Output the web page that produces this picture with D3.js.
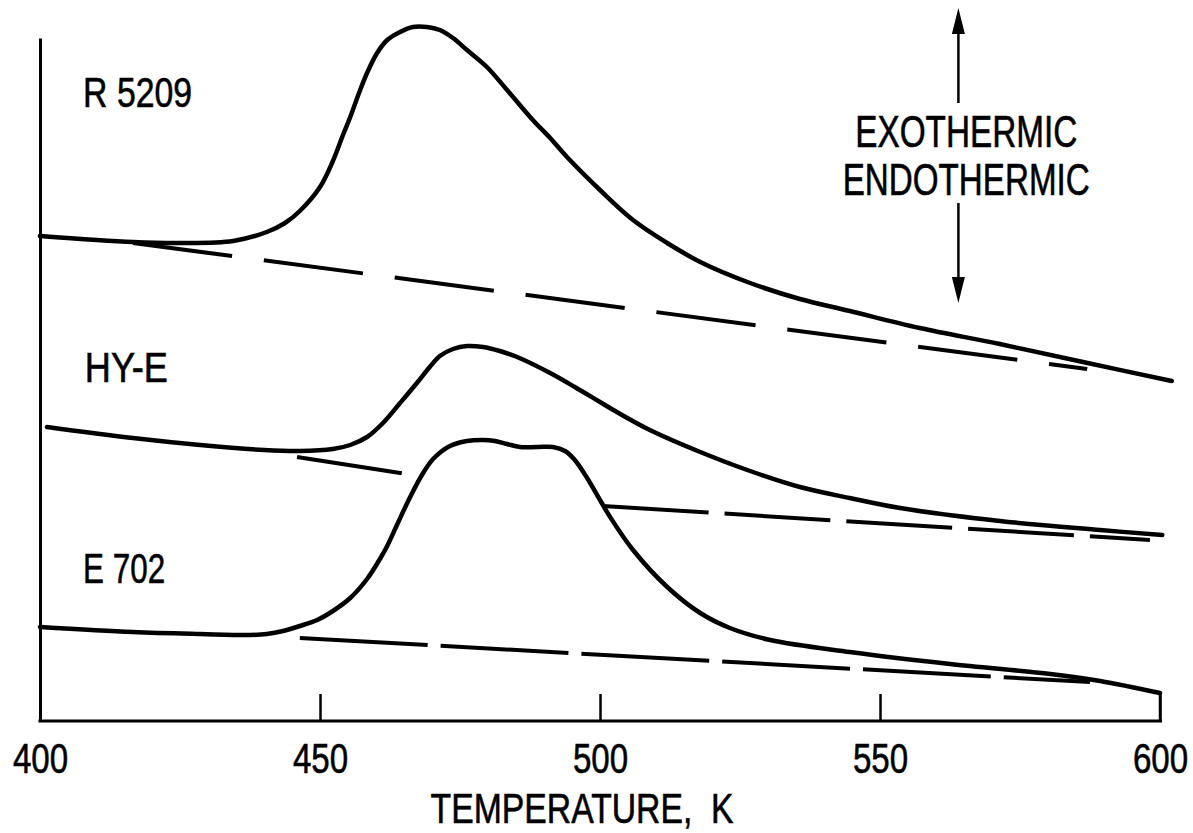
<!DOCTYPE html>
<html>
<head>
<meta charset="utf-8">
<script src="https://cdn.jsdelivr.net/npm/d3@7"></script>
<style>
  html, body { margin: 0; padding: 0; background: #fff; }
  svg { display: block; }
  text { font-family: "Liberation Sans", Arial, sans-serif; fill: #000; stroke: #000; stroke-width: 0.6px; }
</style>
</head>
<body>
<svg id="chart" width="1193" height="833"></svg>
<script>
// DTA traces: temperature (K) vs. differential signal (arbitrary units, stacked offsets)
const r5209 = [
  [400, 48.5], [416.6, 47.9], [425, 47.8], [434.5, 48.0], [440.5, 48.9], [443.75, 49.8],
  [446.4, 51.0], [450, 53.4], [452.3, 56.0], [454.1, 58.6], [455.4, 60.4], [457.1, 63.0],
  [458.4, 64.8], [460.2, 66.8], [462.0, 68.1], [464.3, 68.9], [466.6, 69.4], [469.1, 69.4],
  [471.4, 69.1], [473.75, 68.3], [476.25, 67.1], [479.8, 65.4], [483.4, 63.1], [488, 60.1],
  [491.1, 58.3], [494.1, 56.4], [500, 53.1], [505.9, 50.1], [512, 47.8], [517.9, 45.9],
  [526.8, 43.8], [535.7, 42.2], [544.6, 41.0], [557.1, 39.3], [571.4, 37.7], [586.25, 35.9],
  [602.1, 34.0]
];
const hyE = [
  [401.25, 29.4], [416.6, 28.3], [428.6, 27.6], [440.0, 27.1], [446.4, 27.0], [452.3, 27.2],
  [455.4, 27.6], [458.4, 28.4], [461.25, 29.8], [464.3, 31.8], [467.3, 33.8], [469.6, 35.4],
  [471.4, 36.5], [473.75, 37.2], [476.25, 37.5], [479.1, 37.4], [482.1, 37.0], [485.2, 36.4],
  [491.1, 34.8], [495.5, 33.4], [500, 31.9], [503, 30.9], [508.9, 29.1], [517.9, 26.9],
  [526.8, 25.0], [535.7, 23.4], [544.6, 22.3], [553.6, 21.3], [571.4, 20.0], [589.3, 19.1],
  [600.4, 18.6]
];
const e702 = [
  [400, 9.4], [416.6, 8.9], [428.6, 8.7], [437.5, 8.6], [440.5, 8.7], [443.4, 9.0],
  [446.4, 9.5], [449.5, 10.1], [452.3, 11.0], [455.4, 12.3], [458.4, 14.2], [460.7, 16.2],
  [462.0, 17.5], [463.9, 19.8], [466.1, 22.4], [468.2, 24.6], [470.2, 26.2], [473.2, 27.5],
  [476.25, 28.0], [479.1, 28.1], [481.25, 28.0], [483.4, 27.7], [485.7, 27.4], [488.75, 27.4],
  [491.6, 27.4], [493.75, 27.0], [495.5, 26.1], [497.7, 24.3], [500, 22.1], [501.8, 20.4],
  [505.9, 17.1], [512, 13.4], [517.9, 10.8], [523.2, 9.3], [530.4, 8.1], [544.6, 6.9],
  [562.5, 5.7], [580.4, 4.7], [589.3, 4.0], [600, 2.8]
];

// Extrapolated baselines (dashed), each as its visible pieces
const r5209Base = [[[416.6, 47.8], [587, 35.2]]];
const hyEBase = [[[445.9, 26.4], [465.5, 24.7]], [[500.5, 21.5], [598.2, 18.1]]];
const e702Base = [[[446.4, 8.3], [587.5, 3.9]]];

const seriesLabels = [
  { text: "R 5209", t: 407.7, v: 61.4, w: 109 },
  { text: "HY-E",   t: 408.0, v: 33.9, w: 83 },
  { text: "E 702",  t: 407.7, v: 13.8, w: 82 }
];

const xTicks = [400, 450, 500, 550, 600];
const xTitle = "TEMPERATURE,  K";
const directionLabels = ["EXOTHERMIC", "ENDOTHERMIC"];

const svg = d3.select("#chart");

const x = d3.scaleLinear().domain([400, 600]).range([40, 1160]);
const y = d3.scaleLinear().domain([0, 68.3]).range([721, 38]);

const line = d3.line()
  .x(d => x(d[0]))
  .y(d => y(d[1]))
  .curve(d3.curveCatmullRom.alpha(0.5));

const straight = d3.line().x(d => x(d[0])).y(d => y(d[1]));

// condensed lettering: squeeze glyphs to a fixed run length
function condensed(sel, width) {
  sel.attr("textLength", width).attr("lengthAdjust", "spacingAndGlyphs");
}

// axes
const xAxis = d3.axisBottom(x)
  .tickValues(xTicks)
  .tickFormat(d3.format("d"))
  .tickSizeInner(-27)
  .tickSizeOuter(0)
  .tickPadding(21);

const gx = svg.append("g")
  .attr("transform", `translate(0,${y(0)})`)
  .call(xAxis);
gx.select(".domain").attr("stroke", "#000").attr("stroke-width", 3)
  .attr("d", `M${x(400) - 1.5},0H${x(600) + 2}`);
gx.selectAll(".tick line").attr("stroke", "#000").attr("stroke-width", 2.5);
gx.selectAll(".tick").filter(d => d === 400).select("line").remove();
gx.selectAll(".tick text")
  .attr("font-size", 43)
  .attr("font-family", "'Liberation Sans', Arial, sans-serif")
  .attr("fill", "#000")
  .attr("transform", "scale(0.77,1)");

const gy = svg.append("g")
  .attr("transform", `translate(${x(400)},0)`)
  .call(d3.axisLeft(y).tickValues([]).tickSizeOuter(0));
gy.select(".domain").attr("stroke", "#000").attr("stroke-width", 3);

svg.append("text")
  .attr("x", x(496.8))
  .attr("y", 823)
  .attr("text-anchor", "middle")
  .attr("font-size", 42)
  .style("white-space", "pre")
  .text(xTitle)
  .call(condensed, 303);

// dashed baselines
const baseSets = [
  { pieces: r5209Base, dash: "100,32" },
  { pieces: hyEBase, dash: "106,16" },
  { pieces: e702Base, dash: "128,13" }
];
baseSets.forEach(s => {
  s.pieces.forEach(p => {
    svg.append("path")
      .attr("d", straight(p))
      .attr("fill", "none")
      .attr("stroke", "#000")
      .attr("stroke-width", 4)
      .attr("stroke-dasharray", s.dash);
  });
});

// solid traces
[r5209, hyE, e702].forEach(s => {
  svg.append("path")
    .attr("d", line(s))
    .attr("fill", "none")
    .attr("stroke", "#000")
    .attr("stroke-width", 4.5)
    .attr("stroke-linejoin", "round")
    .attr("stroke-linecap", "round");
});

// right-end closing tick for the lowest trace
svg.append("line")
  .attr("x1", x(600)).attr("x2", x(600))
  .attr("y1", y(0)).attr("y2", y(2.8))
  .attr("stroke", "#000").attr("stroke-width", 2.5);

// trace labels
svg.selectAll("text.series")
  .data(seriesLabels)
  .join("text")
  .attr("class", "series")
  .attr("x", d => x(d.t))
  .attr("y", d => y(d.v))
  .attr("font-size", 42)
  .text(d => d.text)
  .attr("textLength", d => d.w)
  .attr("lengthAdjust", "spacingAndGlyphs");

// exothermic / endothermic direction indicator
const ax = x(564);
const arrowG = svg.append("g");
arrowG.append("line")
  .attr("x1", ax).attr("x2", ax)
  .attr("y1", y(61.8)).attr("y2", y(69.5))
  .attr("stroke", "#000").attr("stroke-width", 2.5);
arrowG.append("path")
  .attr("d", `M${ax},${y(71.3)}L${ax - 6.5},${y(68.7)}L${ax + 6.5},${y(68.7)}Z`)
  .attr("fill", "#000");
arrowG.append("line")
  .attr("x1", ax).attr("x2", ax)
  .attr("y1", y(51.8)).attr("y2", y(43.5))
  .attr("stroke", "#000").attr("stroke-width", 2.5);
arrowG.append("path")
  .attr("d", `M${ax},${y(41.8)}L${ax - 6.5},${y(44.4)}L${ax + 6.5},${y(44.4)}Z`)
  .attr("fill", "#000");

svg.append("text")
  .attr("x", x(565.4)).attr("y", y(57.4))
  .attr("text-anchor", "middle")
  .attr("font-size", 44)
  .text(directionLabels[0])
  .call(condensed, 222);
svg.append("text")
  .attr("x", x(565.4)).attr("y", y(52.6))
  .attr("text-anchor", "middle")
  .attr("font-size", 44)
  .text(directionLabels[1])
  .call(condensed, 247);
</script>
</body>
</html>
